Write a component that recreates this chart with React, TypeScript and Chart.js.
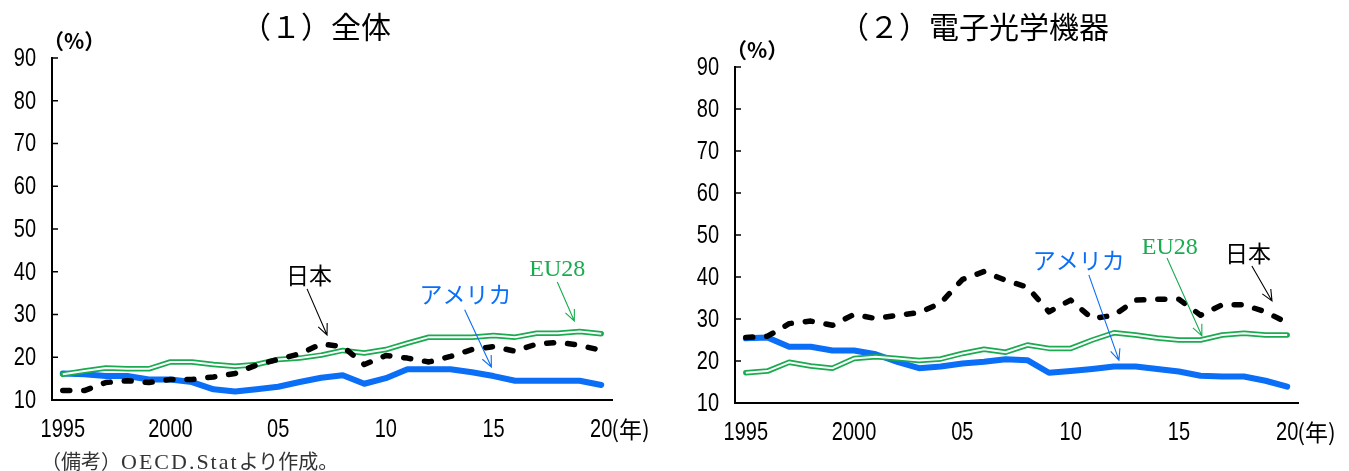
import React, { useEffect, useRef } from "react";
import { Chart, registerables } from "chart.js";

Chart.register(...registerables);

// ---- data -------------------------------------------------------------
const years = [
  "1995", "1996", "1997", "1998", "1999", "2000", "2001", "2002", "2003",
  "2004", "2005", "2006", "2007", "2008", "2009", "2010", "2011", "2012",
  "2013", "2014", "2015", "2016", "2017", "2018", "2019", "2020",
];

// shown year labels (others stay blank)
const yearTickText: Record<string, string> = {
  "1995": "1995",
  "2000": "2000",
  "2005": "05",
  "2010": "10",
  "2015": "15",
  "2020": "20",
};

const yMin = 10;
const yMax = 90;
const yStep = 10;

// (1) 全体
const totalJapan = [
  12.2, 12.2, 14.1, 14.5, 14.1, 14.8, 14.8, 15.4, 16.2, 18.2, 19.5, 20.8, 23.1,
  22.5, 18.3, 20.4, 19.8, 18.9, 20.2, 21.8, 22.5, 21.4, 23.1, 23.5, 22.8, 21.6,
];
const totalUSA = [
  16.2, 16.0, 15.6, 15.6, 14.8, 14.8, 14.2, 12.5, 12.0, 12.5, 13.1, 14.2, 15.2,
  15.8, 13.8, 15.1, 17.2, 17.2, 17.2, 16.5, 15.6, 14.5, 14.5, 14.5, 14.5, 13.5,
];
const totalEU = [
  16.0, 16.8, 17.5, 17.3, 17.3, 18.9, 18.9, 18.3, 17.9, 18.3, 19.5, 19.8, 20.5,
  21.6, 21.0, 21.8, 23.3, 24.7, 24.7, 24.7, 25.1, 24.7, 25.6, 25.6, 26.0, 25.5,
];

// (2) 電子光学機器
const elecJapan = [
  25.6, 25.9, 28.9, 29.5, 28.5, 31.1, 30.1, 30.9, 31.5, 33.8, 39.4, 41.3, 39.2,
  37.6, 31.7, 34.5, 30.1, 30.9, 34.5, 34.7, 34.7, 30.9, 33.4, 33.4, 31.7, 29.1,
];
const elecUSA = [
  25.4, 25.6, 23.4, 23.4, 22.5, 22.5, 21.6, 19.8, 18.3, 18.7, 19.4, 19.8, 20.4,
  20.2, 17.2, 17.6, 18.1, 18.7, 18.7, 18.1, 17.5, 16.5, 16.3, 16.3, 15.3, 13.9,
];
const elecEU = [
  17.2, 17.6, 19.7, 18.8, 18.3, 20.6, 21.0, 20.6, 20.1, 20.5, 21.8, 22.8, 22.1,
  23.8, 23.0, 23.0, 25.0, 26.7, 26.2, 25.5, 25.0, 25.0, 26.2, 26.6, 26.2, 26.2,
];

// ---- styling ----------------------------------------------------------
const JAPAN_COLOR = "#000000";
const USA_COLOR = "#0a6ef7";
const EU_COLOR = "#1aab50";

const GOTHIC = "'Noto Sans CJK JP', 'Noto Sans', sans-serif";
const SANS = "'Liberation Sans', Arial, sans-serif";
const SERIF = "'Liberation Serif', 'DejaVu Serif', serif";

type Pt = [number, number]; // [category index, value]
type Note = { text: string; color: string; font: string; at: Pt; from: Pt; to: Pt };

const totalNotes: Note[] = [
  { text: "日本", color: JAPAN_COLOR, font: `23px ${GOTHIC}`, at: [11.43, 39.2], from: [11.34, 36.0], to: [12.27, 25.2] },
  { text: "アメリカ", color: USA_COLOR, font: `23px ${GOTHIC}`, at: [18.7, 34.8], from: [18.66, 31.1], to: [19.9, 17.7] },
  { text: "EU28", color: EU_COLOR, font: `24px ${SERIF}`, at: [22.96, 40.4], from: [22.96, 37.6], to: [23.75, 28.5] },
];

const elecNotes: Note[] = [
  { text: "アメリカ", color: USA_COLOR, font: `23px ${GOTHIC}`, at: [15.38, 44.0], from: [15.84, 40.5], to: [17.23, 20.2] },
  { text: "EU28", color: EU_COLOR, font: `24px ${SERIF}`, at: [19.58, 46.9], from: [19.45, 44.5], to: [21.06, 26.0] },
  { text: "日本", color: JAPAN_COLOR, font: `23px ${GOTHIC}`, at: [23.19, 45.7], from: [23.37, 42.6], to: [24.3, 34.3] },
];

function drawArrow(ctx: CanvasRenderingContext2D, x1: number, y1: number, x2: number, y2: number, color: string) {
  const ang = Math.atan2(y2 - y1, x2 - x1);
  const len = 12;
  const spread = 0.42;
  ctx.save();
  ctx.strokeStyle = color;
  ctx.lineWidth = 1.1;
  ctx.beginPath();
  ctx.moveTo(x1, y1);
  ctx.lineTo(x2, y2);
  ctx.moveTo(x2 - len * Math.cos(ang - spread), y2 - len * Math.sin(ang - spread));
  ctx.lineTo(x2, y2);
  ctx.lineTo(x2 - len * Math.cos(ang + spread), y2 - len * Math.sin(ang + spread));
  ctx.stroke();
  ctx.restore();
}

function notesPlugin(notes: Note[]) {
  return {
    id: "notes",
    afterDatasetsDraw(chart: any) {
      const { ctx } = chart;
      const xs = chart.scales.x;
      const ys = chart.scales.y;
      const px = (p: Pt): [number, number] => [xs.getPixelForValue(p[0]), ys.getPixelForValue(p[1])];
      for (const n of notes) {
        const [tx, ty] = px(n.at);
        ctx.save();
        ctx.font = n.font;
        ctx.fillStyle = n.color;
        ctx.textAlign = "center";
        ctx.textBaseline = "middle";
        ctx.fillText(n.text, tx, ty);
        ctx.restore();
        const [fx, fy] = px(n.from);
        const [ex, ey] = px(n.to);
        drawArrow(ctx, fx, fy, ex, ey, n.color);
      }
    },
  };
}

// narrow (horizontally condensed) label text
function narrowText(
  ctx: CanvasRenderingContext2D,
  text: string,
  x: number,
  y: number,
  align: CanvasTextAlign,
) {
  ctx.save();
  ctx.translate(x, y);
  ctx.scale(0.8, 1);
  ctx.textAlign = align;
  ctx.fillText(text, 0, 0);
  ctx.restore();
}

// axis labels, short inner tick marks on the value axis, and the (年) unit
const axisDecor = {
  id: "axisDecor",
  afterDraw(chart: any) {
    const { ctx, chartArea } = chart;
    const ys = chart.scales.y;
    const xs = chart.scales.x;
    ctx.save();
    ctx.strokeStyle = "#000";
    ctx.lineWidth = 1.5;
    for (let v = yMin + yStep; v <= yMax; v += yStep) {
      const y = ys.getPixelForValue(v);
      ctx.beginPath();
      ctx.moveTo(chartArea.left, y);
      ctx.lineTo(chartArea.left + 6, y);
      ctx.stroke();
    }

    ctx.fillStyle = "#000";
    ctx.font = `25px ${SANS}`;
    ctx.textBaseline = "middle";
    for (let v = yMin; v <= yMax; v += yStep) {
      narrowText(ctx, String(v), chartArea.left - 16, ys.getPixelForValue(v) + 1, "right");
    }
    ctx.textBaseline = "alphabetic";
    years.forEach((yr, i) => {
      const t = yearTickText[yr];
      if (t) narrowText(ctx, t, xs.getPixelForValue(i), chartArea.bottom + 37, "center");
    });

    const lastX = xs.getPixelForValue(years.length - 1);
    ctx.font = `23px ${GOTHIC}`;
    ctx.textAlign = "left";
    ctx.textBaseline = "middle";
    ctx.fillText("(年)", lastX + 10, chartArea.bottom + 29);
    ctx.restore();
  },
};

type PanelProps = {
  japan: number[];
  usa: number[];
  eu: number[];
  notes: Note[];
  width: number;
  height: number;
  left: number;
  right: number;
  top: number;
  bottom: number;
};

function Panel(props: PanelProps) {
  const ref = useRef<HTMLCanvasElement | null>(null);
  useEffect(() => {
    const canvas = ref.current;
    if (!canvas) return;
    const { japan, usa, eu, notes, height, left, right, top, bottom } = props;
    const chart = new Chart(canvas, {
      type: "line",
      data: {
        labels: years,
        datasets: [
          {
            label: "日本",
            data: japan,
            borderColor: JAPAN_COLOR,
            borderWidth: 5.5,
            borderDash: [7, 14],
            borderCapStyle: "round",
            borderJoinStyle: "round",
            pointRadius: 0,
            tension: 0,
            order: 0,
          },
          {
            label: "EU28",
            data: eu,
            borderColor: "#ffffff",
            borderWidth: 2,
            pointRadius: 0,
            tension: 0,
            order: 1,
          },
          {
            label: "EU28 outline",
            data: eu,
            borderColor: EU_COLOR,
            borderWidth: 5.5,
            borderJoinStyle: "round",
            borderCapStyle: "round",
            pointRadius: 0,
            tension: 0,
            order: 2,
          },
          {
            label: "アメリカ",
            data: usa,
            borderColor: USA_COLOR,
            borderWidth: 6,
            borderJoinStyle: "round",
            borderCapStyle: "round",
            pointRadius: 0,
            tension: 0,
            order: 3,
          },
        ],
      },
      options: {
        animation: false,
        responsive: false,
        devicePixelRatio: 1,
        layout: { padding: { top, right, left: 0, bottom: 0 } },
        plugins: {
          legend: { display: false },
          tooltip: { enabled: false },
          title: { display: false },
        },
        scales: {
          x: {
            type: "category",
            offset: true,
            grid: { display: true, drawOnChartArea: false, drawTicks: false },
            border: { display: true, color: "#000", width: 2 },
            ticks: { display: false, autoSkip: false, maxRotation: 0 },
            afterFit: (s: any) => {
              s.height = height - bottom;
            },
          },
          y: {
            min: yMin,
            max: yMax,
            grid: { display: true, drawOnChartArea: false, drawTicks: false },
            border: { display: true, color: "#000", width: 2 },
            ticks: { display: false, stepSize: yStep },
            afterFit: (s: any) => {
              s.width = left;
            },
          },
        },
      },
      plugins: [notesPlugin(notes), axisDecor],
    });
    return () => chart.destroy();
  }, []);
  return (
    <canvas
      ref={ref}
      width={props.width}
      height={props.height}
      style={{ width: props.width, height: props.height, display: "block" }}
    />
  );
}

const textBase: React.CSSProperties = {
  position: "absolute",
  whiteSpace: "nowrap",
  lineHeight: 1,
  color: "#000",
};

export default function App() {
  return (
    <div
      style={{
        position: "absolute",
        left: 0,
        top: 0,
        width: 1349,
        height: 471,
        background: "#fff",
        overflow: "hidden",
      }}
    >
      <div style={{ position: "absolute", left: 0, top: 0 }}>
        <Panel japan={totalJapan} usa={totalUSA} eu={totalEU} notes={totalNotes}
          width={680} height={471} left={52} right={68} top={58} bottom={400} />
      </div>
      <div style={{ position: "absolute", left: 680, top: 0 }}>
        <Panel japan={elecJapan} usa={elecUSA} eu={elecEU} notes={elecNotes}
          width={669} height={471} left={55} right={51} top={67} bottom={403} />
      </div>

      <div style={{ ...textBase, left: 241, top: 10, fontSize: 30, fontFamily: GOTHIC }}>（１）全体</div>
      <div style={{ ...textBase, left: 839, top: 10, fontSize: 30, fontFamily: GOTHIC }}>（２）電子光学機器</div>

      <div style={{ ...textBase, left: 43, top: 30, fontSize: 21, fontFamily: GOTHIC, fontWeight: 700 }}>（%）</div>
      <div style={{ ...textBase, left: 726, top: 39, fontSize: 21, fontFamily: GOTHIC, fontWeight: 700 }}>（%）</div>

      <div style={{ ...textBase, left: 41, top: 451, fontSize: 20, fontFamily: SERIF, color: "#333" }}>
        <span style={{ fontFamily: GOTHIC }}>（備考）</span>
        <span style={{ fontSize: 22, letterSpacing: 2 }}>OECD.Stat</span>
        <span style={{ fontFamily: GOTHIC }}>より作成。</span>
      </div>
    </div>
  );
}
